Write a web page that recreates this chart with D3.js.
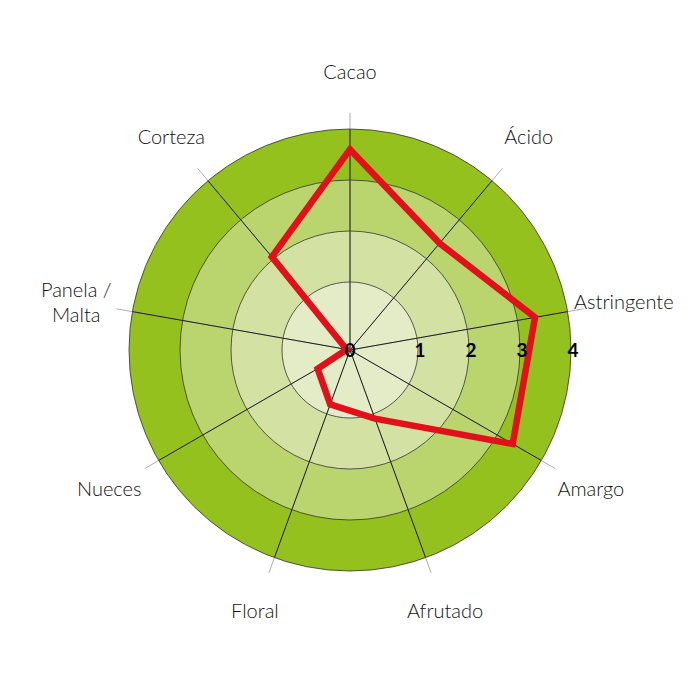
<!DOCTYPE html>
<html>
<head>
<meta charset="utf-8">
<script src="https://cdn.jsdelivr.net/npm/d3@7"></script>
<style>
  body { margin: 0; background: #fff; }
</style>
</head>
<body>
<div id="radar"></div>
<script>
// chart data
var categories = ["Cacao", "Ácido", "Astringente", "Amargo", "Afrutado", "Floral", "Nueces", "Panela / Malta", "Corteza"];
var values = [3.6, 2.4, 3.35, 3.35, 1.1, 0.85, 0.55, 0.05, 2.05];
var ticks = [0, 1, 2, 3, 4];
var ringColors = ["#e3ecc6", "#d3e2a2", "#bad46e", "#95c11f"];

var svgWidth = 700;
var svgHeight = 700;
var cx = 350, cy = 350;

var svg = d3.select("#radar")
  .append("svg")
  .attr("width", svgWidth)
  .attr("height", svgHeight);

var g = svg.append("g")
  .attr("transform", `translate(${cx}, ${cy})`);

// radial scale: first ring is a bit wider than the rest
var rScale = d3.scaleLinear()
  .domain([0, 1, 4])
  .range([0, 68, 221]);

var angle = d3.scaleLinear()
  .domain([0, categories.length])
  .range([0, 2 * Math.PI]);

function px(v, i) { return rScale(v) * Math.sin(angle(i)); }
function py(v, i) { return -rScale(v) * Math.cos(angle(i)); }

// filled rings, outermost first
var rings = ticks.slice(1).reverse();
g.selectAll("circle.ring")
  .data(rings)
  .enter()
  .append("circle")
  .attr("class", "ring")
  .attr("r", d => rScale(d))
  .attr("fill", d => ringColors[d - 1])
  .attr("stroke", "#333")
  .attr("stroke-width", 0.8);

// axis spokes, grey tail past the outer ring
var maxR = rScale(4);
g.selectAll("line.tail")
  .data(categories)
  .enter()
  .append("line")
  .attr("x1", 0).attr("y1", 0)
  .attr("x2", (d, i) => (maxR + 16) * Math.sin(angle(i)))
  .attr("y2", (d, i) => -(maxR + 16) * Math.cos(angle(i)))
  .attr("stroke", "#999")
  .attr("stroke-width", 0.8);

g.selectAll("line.spoke")
  .data(categories)
  .enter()
  .append("line")
  .attr("x1", 0).attr("y1", 0)
  .attr("x2", (d, i) => px(4, i))
  .attr("y2", (d, i) => py(4, i))
  .attr("stroke", "#111")
  .attr("stroke-width", 0.9);

// the series
var line = d3.lineRadial()
  .angle((d, i) => angle(i))
  .radius(d => rScale(d))
  .curve(d3.curveLinearClosed);

g.append("path")
  .datum(values)
  .attr("d", line)
  .attr("fill", "none")
  .attr("stroke", "#e2101a")
  .attr("stroke-width", 6.5)
  .attr("stroke-linejoin", "miter");

// category labels
var labelR = 278;
var labels = g.selectAll("text.cat")
  .data(categories)
  .enter()
  .append("text")
  .attr("class", "cat")
  .attr("x", (d, i) => labelR * Math.sin(angle(i)))
  .attr("y", (d, i) => -labelR * Math.cos(angle(i)))
  .attr("text-anchor", "middle")
  .attr("font-family", "Lato, 'Open Sans', sans-serif")
  .attr("font-weight", 300)
  .attr("font-size", "20px")
  .attr("fill", "#111");

labels.each(function(d) {
  var parts = d.split(" / ");
  var t = d3.select(this);
  if (parts.length > 1) {
    t.append("tspan").attr("x", t.attr("x")).attr("dy", "-0.25em").text(parts[0] + " /");
    t.append("tspan").attr("x", t.attr("x")).attr("dy", "1.25em").text(parts[1]);
  } else {
    t.attr("dy", "0.35em").text(d);
  }
});

// tick labels along the horizontal
g.selectAll("text.tick")
  .data(ticks)
  .enter()
  .append("text")
  .attr("class", "tick")
  .attr("x", d => rScale(d) + (d === 0 ? 0 : 2))
  .attr("y", 0)
  .attr("dy", "0.35em")
  .attr("text-anchor", "middle")
  .attr("font-family", "Lato, 'Open Sans', sans-serif")
  .attr("font-weight", "bold")
  .attr("font-size", "19px")
  .attr("fill", "#000")
  .text(d => d);
</script>
</body>
</html>
